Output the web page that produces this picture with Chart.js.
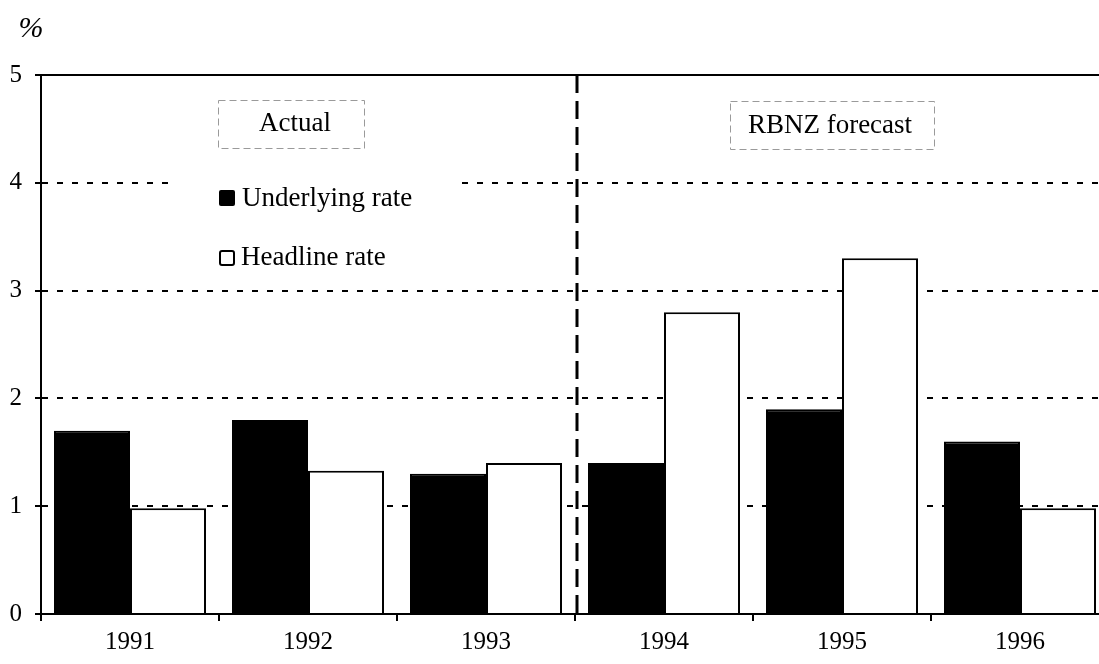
<!DOCTYPE html>
<html>
<head>
<meta charset="utf-8">
<script src="https://cdn.jsdelivr.net/npm/chart.js@4/dist/chart.umd.min.js"></script>
<style>
  html, body { margin: 0; padding: 0; background: #fff; overflow: hidden; }
  #wrap { width: 1099px; height: 664px; overflow: hidden; position: relative; }
  canvas { display: block; }
</style>
</head>
<body>
<div id="wrap"><canvas id="c" width="1112" height="664" style="width:1112px;height:664px"></canvas></div>
<script>
const years = ['1991', '1992', '1993', '1994', '1995', '1996'];
const underlying = [1.7, 1.8, 1.3, 1.4, 1.9, 1.6];
const headline = [0.98, 1.33, 1.4, 2.8, 3.3, 0.98];
const yTicks = [0, 1, 2, 3, 4, 5];
const seriesNames = ['Underlying rate', 'Headline rate'];
const periodLabels = ['Actual', 'RBNZ forecast'];
const unitLabel = '%';

const SERIF = '"Liberation Serif", "DejaVu Serif", serif';

const overlay = {
  id: 'overlay',
  beforeDatasetsDraw(chart) {
    const ctx = chart.ctx;
    const a = chart.chartArea;
    ctx.save();
    // legend block (white background hides grid line)
    ctx.fillStyle = '#fff';
    ctx.fillRect(a.left + 134, a.top + 90, 283, 110);
    // underlying swatch
    ctx.fillStyle = '#000';
    ctx.beginPath();
    ctx.roundRect(a.left + 178, a.top + 115, 16, 16, 2);
    ctx.fill();
    // headline swatch
    ctx.fillStyle = '#fff';
    ctx.strokeStyle = '#000';
    ctx.lineWidth = 2;
    ctx.beginPath();
    ctx.roundRect(a.left + 179, a.top + 176, 14, 14, 2);
    ctx.fill();
    ctx.stroke();
    ctx.fillStyle = '#000';
    ctx.font = '27px ' + SERIF;
    ctx.textBaseline = 'middle';
    ctx.textAlign = 'left';
    ctx.fillText(seriesNames[0], a.left + 201, a.top + 124);
    ctx.fillText(seriesNames[1], a.left + 200, a.top + 183);
    ctx.restore();
  },
  afterDatasetsDraw(chart) {
    const ctx = chart.ctx;
    const a = chart.chartArea;
    const x = chart.scales.x, y = chart.scales.y;
    ctx.save();
    // top border
    ctx.strokeStyle = '#000';
    ctx.lineWidth = 2;
    ctx.setLineDash([]);
    ctx.beginPath();
    ctx.moveTo(a.left, y.getPixelForValue(5));
    ctx.lineTo(a.right, y.getPixelForValue(5));
    ctx.stroke();
    // vertical divider between actual and forecast
    const xd = (x.getPixelForValue(2) + x.getPixelForValue(3)) / 2 + 2;
    ctx.lineWidth = 3;
    ctx.setLineDash([18, 8]);
    ctx.beginPath();
    ctx.moveTo(xd, a.top);
    ctx.lineTo(xd, a.bottom);
    ctx.stroke();
    // annotation boxes
    ctx.setLineDash([7, 4]);
    ctx.lineWidth = 1;
    ctx.strokeStyle = '#9a9a9a';
    ctx.strokeRect(a.left + 177.5, a.top + 25.5, 146, 48);
    ctx.strokeRect(a.left + 689.5, a.top + 26.5, 204, 48);
    ctx.fillStyle = '#000';
    ctx.font = '27px ' + SERIF;
    ctx.textAlign = 'center';
    ctx.textBaseline = 'middle';
    ctx.fillText(periodLabels[0], a.left + 254, a.top + 49);
    ctx.fillText(periodLabels[1], a.left + 789, a.top + 51);
    // unit label
    ctx.font = 'italic 30px ' + SERIF;
    ctx.fillText(unitLabel, 31, 29);
    ctx.restore();
  }
};

new Chart(document.getElementById('c'), {
  type: 'bar',
  data: {
    labels: years,
    datasets: [
      { label: seriesNames[0], data: underlying, backgroundColor: '#000', borderColor: '#000', borderWidth: 2 },
      { label: seriesNames[1], data: headline, backgroundColor: '#fff', borderColor: '#000', borderWidth: 2 }
    ]
  },
  options: {
    responsive: false,
    animation: false,
    devicePixelRatio: 1,
    layout: { padding: { left: 0, top: 75, right: 3, bottom: 0 } },
    categoryPercentage: 0.854,
    barPercentage: 1.0,
    plugins: { legend: { display: false }, tooltip: { enabled: false } },
    scales: {
      x: {
        grid: { offset: true, drawOnChartArea: false, drawTicks: true, tickLength: 7, color: '#000', lineWidth: 2 },
        border: { display: true, color: '#000', width: 2 },
        ticks: { color: '#000', font: { family: SERIF, size: 25 }, padding: 6, maxRotation: 0 },
        afterFit(s) { s.height = 50; }
      },
      y: {
        min: 0, max: 5,
        afterBuildTicks(s) { s.ticks = yTicks.map(v => ({ value: v })); },
        grid: { color: '#000', lineWidth: 2, drawTicks: true, tickLength: 6, tickColor: '#000', tickBorderDash: [] },
        border: { display: true, color: '#000', width: 2, dash: [6, 9] },
        ticks: { color: '#000', font: { family: SERIF, size: 25 }, padding: 13 },
        afterFit(s) { s.width = 41; }
      }
    }
  },
  plugins: [overlay]
});
</script>
</body>
</html>
